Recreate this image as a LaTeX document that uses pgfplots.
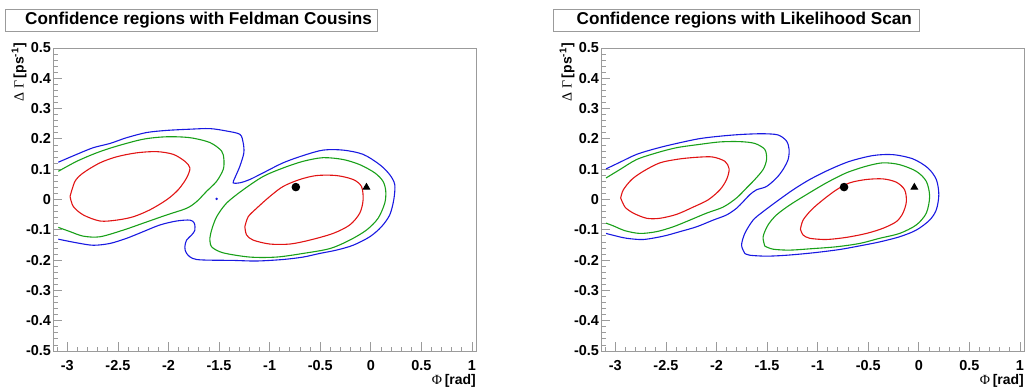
\documentclass[border=0pt]{standalone}
\usepackage{pgfplots}
\pgfplotsset{compat=1.18}
\usepackage{fontspec}
\setmainfont{Liberation Sans}
\newfontfamily\greekfont{Liberation Serif}
\definecolor{framegray}{RGB}{155,155,155}
\definecolor{cred}{RGB}{225,20,20}
\definecolor{cgreen}{RGB}{25,160,25}
\definecolor{cblue}{RGB}{25,25,225}

\pgfplotsset{rootstyle/.style={
  scale only axis, width=423bp, height=303bp,
  xmin=-3.1416, xmax=1.04, ymin=-0.5, ymax=0.5,
  xtick={-3,-2.5,-2,-1.5,-1,-0.5,0,0.5,1},
  ytick={-0.5,-0.4,-0.3,-0.2,-0.1,0,0.1,0.2,0.3,0.4,0.5},
  minor xtick={-3.1,-3.0,...,1.0},
  minor ytick={-0.5,-0.48,...,0.5},
  tick align=inside, xtick pos=left, ytick pos=left,
  major tick length=9bp, minor tick length=4.5bp,
  axis line style={framegray, line width=0.8bp},
  every tick/.style={framegray, line width=0.8bp},
  tick label style={font=\bfseries\fontsize{14.5}{14.5}\selectfont},
  /pgf/number format/assume math mode=true,
  xticklabel style={yshift=-6bp},
  yticklabel style={xshift=1.5bp},
  clip mode=individual,
  every axis plot/.append style={line width=1.1bp, smooth, tension=0.5},
}}

\begin{document}
\begin{tikzpicture}
\useasboundingbox (0,0) rectangle (1025bp,391bp);

% title boxes
\draw[framegray, line width=0.8bp] (5bp,360bp) rectangle (377bp,382bp);
\node[anchor=east, inner sep=0pt, font=\bfseries\fontsize{17.2}{17.2}\selectfont] at (372bp,371bp) {Confidence regions with Feldman Cousins};
\draw[framegray, line width=0.8bp] (553bp,360bp) rectangle (919bp,382bp);
\node[anchor=east, inner sep=0pt, font=\bfseries\fontsize{17.2}{17.2}\selectfont] at (912bp,371bp) {Confidence regions with Likelihood Scan};

% ---------------- left panel ----------------
\begin{axis}[rootstyle, at={(53bp,40bp)}, anchor=south west]
\addplot[cred] coordinates {(-2.973,0.010) (-2.924,0.060) (-2.842,0.088) (-2.677,0.121) (-2.512,0.141) (-2.315,0.154) (-2.117,0.158) (-1.953,0.149) (-1.838,0.126) (-1.788,0.104) (-1.821,0.071) (-1.904,0.032) (-2.018,-0.001) (-2.183,-0.034) (-2.348,-0.057) (-2.512,-0.068) (-2.677,-0.071) (-2.842,-0.051) (-2.941,-0.023) (-2.973,0.010)};
\addplot[cgreen] coordinates {(-3.089,0.093) (-2.907,0.126) (-2.710,0.154) (-2.512,0.176) (-2.249,0.199) (-2.018,0.207) (-1.788,0.204) (-1.591,0.188) (-1.475,0.160) (-1.452,0.132) (-1.459,0.099) (-1.524,0.060) (-1.623,0.027) (-1.722,-0.007) (-1.821,-0.029) (-2.018,-0.051) (-2.249,-0.078) (-2.447,-0.101) (-2.677,-0.123) (-2.842,-0.121) (-2.973,-0.106) (-3.089,-0.092)};
\addplot[cgreen] coordinates {(-1.591,-0.128) (-1.574,-0.156) (-1.459,-0.176) (-1.196,-0.190) (-0.932,-0.190) (-0.669,-0.178) (-0.405,-0.162) (-0.208,-0.134) (-0.043,-0.101) (0.072,-0.062) (0.138,-0.012) (0.148,0.027) (0.121,0.060) (0.039,0.088) (-0.109,0.115) (-0.274,0.132) (-0.472,0.138) (-0.669,0.126) (-0.867,0.104) (-1.064,0.076) (-1.262,0.032) (-1.426,-0.012) (-1.524,-0.057) (-1.574,-0.101) (-1.591,-0.128)};
\addplot[cred] coordinates {(-1.245,-0.090) (-1.212,-0.057) (-1.129,-0.029) (-0.998,0.010) (-0.867,0.043) (-0.702,0.066) (-0.537,0.079) (-0.339,0.079) (-0.175,0.066) (-0.092,0.043) (-0.076,-0.001) (-0.109,-0.045) (-0.208,-0.084) (-0.373,-0.112) (-0.603,-0.134) (-0.800,-0.147) (-0.998,-0.147) (-1.163,-0.134) (-1.228,-0.117) (-1.245,-0.090)};
\addplot[cblue] coordinates {(-3.089,0.123) (-2.907,0.149) (-2.743,0.171) (-2.578,0.185) (-2.413,0.204) (-2.216,0.221) (-2.018,0.228) (-1.788,0.232) (-1.591,0.234) (-1.426,0.226) (-1.294,0.215) (-1.262,0.188) (-1.255,0.154) (-1.294,0.110) (-1.344,0.071) (-1.360,0.055) (-1.294,0.055) (-1.196,0.066) (-1.064,0.088) (-0.867,0.121) (-0.669,0.145) (-0.472,0.163) (-0.274,0.163) (-0.076,0.149) (0.088,0.115) (0.187,0.082) (0.237,0.049) (0.227,-0.001) (0.187,-0.051) (0.105,-0.090) (-0.010,-0.123) (-0.175,-0.151) (-0.339,-0.167) (-0.504,-0.178) (-0.669,-0.190) (-0.867,-0.198) (-1.129,-0.203) (-1.360,-0.201) (-1.722,-0.198) (-1.821,-0.178) (-1.838,-0.156) (-1.821,-0.134) (-1.771,-0.117) (-1.739,-0.101) (-1.745,-0.078) (-1.788,-0.068) (-1.920,-0.071) (-2.084,-0.084) (-2.249,-0.106) (-2.413,-0.128) (-2.578,-0.145) (-2.743,-0.151) (-2.907,-0.143) (-3.089,-0.131)};
\addplot[cblue, only marks, mark=*, mark size=0.5bp] coordinates {(-1.524,0.002)};
\addplot[black, only marks, mark=*, mark size=3.7bp] coordinates {(-0.741,0.041)};
\addplot[black, only marks, mark=triangle*, mark size=3.6bp] coordinates {(-0.043,0.040)};
\node[rotate=90, anchor=east, inner sep=0pt] at (rel axis cs:-0.08,1.016) {{\greekfont\fontsize{14}{14}\selectfont Δ Γ} \bfseries\fontsize{14}{14}\selectfont [ps\textsuperscript{-1}]};
\node[anchor=east, inner sep=0pt] at (rel axis cs:1,-0.1) {{\greekfont\fontsize{14}{14}\selectfont Φ} \bfseries\fontsize{14}{14}\selectfont [rad]};
\end{axis}

% ---------------- right panel ----------------
\begin{axis}[rootstyle, at={(601bp,40bp)}, anchor=south west]
\addplot[cred] coordinates {(-2.947,0.005) (-2.921,0.032) (-2.838,0.066) (-2.724,0.093) (-2.559,0.121) (-2.361,0.134) (-2.164,0.140) (-2.033,0.140) (-1.917,0.126) (-1.875,0.101) (-1.900,0.066) (-1.966,0.032) (-2.082,-0.001) (-2.230,-0.025) (-2.394,-0.049) (-2.559,-0.062) (-2.690,-0.062) (-2.822,-0.045) (-2.904,-0.025) (-2.947,0.005)};
\addplot[cgreen] coordinates {(-3.092,0.071) (-2.954,0.099) (-2.789,0.132) (-2.591,0.154) (-2.394,0.171) (-2.164,0.182) (-1.966,0.190) (-1.769,0.191) (-1.621,0.185) (-1.522,0.165) (-1.505,0.132) (-1.539,0.099) (-1.621,0.066) (-1.703,0.038) (-1.802,0.005) (-1.934,-0.025) (-2.098,-0.045) (-2.263,-0.068) (-2.427,-0.090) (-2.591,-0.106) (-2.756,-0.112) (-2.904,-0.103) (-3.020,-0.087) (-3.092,-0.078)};
\addplot[cblue] coordinates {(-3.092,0.101) (-2.954,0.123) (-2.789,0.149) (-2.591,0.169) (-2.394,0.185) (-2.164,0.201) (-1.934,0.210) (-1.736,0.215) (-1.539,0.217) (-1.391,0.213) (-1.308,0.193) (-1.282,0.165) (-1.292,0.132) (-1.342,0.099) (-1.407,0.071) (-1.505,0.043) (-1.604,0.032) (-1.670,0.016) (-1.736,-0.007) (-1.802,-0.029) (-1.900,-0.051) (-2.033,-0.068) (-2.196,-0.090) (-2.361,-0.106) (-2.526,-0.121) (-2.724,-0.132) (-2.888,-0.128) (-2.986,-0.121) (-3.092,-0.112)};
\addplot[cblue] coordinates {(-1.720,-0.178) (-1.752,-0.151) (-1.720,-0.112) (-1.638,-0.068) (-1.539,-0.040) (-1.407,-0.007) (-1.243,0.032) (-1.078,0.066) (-0.881,0.099) (-0.683,0.126) (-0.453,0.145) (-0.256,0.148) (-0.058,0.134) (0.090,0.104) (0.173,0.066) (0.198,0.016) (0.173,-0.034) (0.107,-0.068) (-0.025,-0.101) (-0.190,-0.123) (-0.387,-0.140) (-0.552,-0.151) (-0.782,-0.165) (-1.045,-0.176) (-1.308,-0.184) (-1.505,-0.187) (-1.670,-0.184) (-1.720,-0.178)};
\addplot[cgreen] coordinates {(-1.522,-0.154) (-1.539,-0.123) (-1.490,-0.084) (-1.407,-0.051) (-1.275,-0.018) (-1.111,0.016) (-0.913,0.055) (-0.716,0.088) (-0.518,0.110) (-0.354,0.121) (-0.190,0.115) (-0.025,0.093) (0.074,0.060) (0.107,0.010) (0.074,-0.045) (-0.025,-0.084) (-0.190,-0.112) (-0.387,-0.128) (-0.584,-0.145) (-0.814,-0.156) (-1.045,-0.162) (-1.275,-0.167) (-1.440,-0.164) (-1.522,-0.154)};
\addplot[cred] coordinates {(-1.170,-0.098) (-1.144,-0.068) (-1.061,-0.034) (-0.947,-0.001) (-0.814,0.032) (-0.683,0.055) (-0.518,0.066) (-0.354,0.068) (-0.222,0.057) (-0.140,0.032) (-0.123,-0.007) (-0.157,-0.045) (-0.222,-0.073) (-0.354,-0.095) (-0.518,-0.112) (-0.716,-0.125) (-0.913,-0.132) (-1.078,-0.128) (-1.144,-0.117) (-1.170,-0.098)};
\addplot[black, only marks, mark=*, mark size=3.7bp] coordinates {(-0.739,0.041)};
\addplot[black, only marks, mark=triangle*, mark size=3.6bp] coordinates {(-0.044,0.040)};
\node[rotate=90, anchor=east, inner sep=0pt] at (rel axis cs:-0.08,1.016) {{\greekfont\fontsize{14}{14}\selectfont Δ Γ} \bfseries\fontsize{14}{14}\selectfont [ps\textsuperscript{-1}]};
\node[anchor=east, inner sep=0pt] at (rel axis cs:1,-0.1) {{\greekfont\fontsize{14}{14}\selectfont Φ} \bfseries\fontsize{14}{14}\selectfont [rad]};
\end{axis}
\end{tikzpicture}
\end{document}
